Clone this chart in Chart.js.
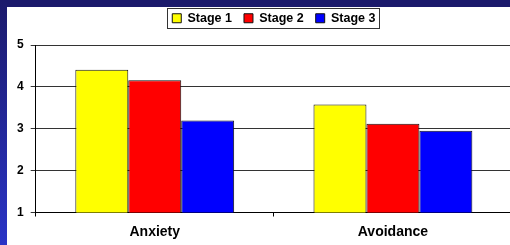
<!DOCTYPE html>
<html>
<head>
<meta charset="utf-8">
<script src="https://cdn.jsdelivr.net/npm/chart.js@4.4.1/dist/chart.umd.min.js"></script>
<style>
  html, body { margin: 0; padding: 0; width: 510px; height: 245px; overflow: hidden; background: #fff; }
  #wrap { position: absolute; left: 0; top: 0; width: 517px; height: 245px; }
  .frameTop { position: absolute; left: 0; top: 0; width: 510px; height: 7px; background: #1b1a6b; z-index: 2; }
  .frameLeft { position: absolute; left: 0; top: 0; width: 7px; height: 245px; z-index: 2;
    background: linear-gradient(to bottom, #1b1a6b, #2a34c6); }
</style>
</head>
<body>
<div class="frameTop"></div>
<div class="frameLeft"></div>
<div id="wrap"><canvas id="stages" width="517" height="245"></canvas></div>
<script>
const categories = ['Anxiety', 'Avoidance'];
const stageNames = ['Stage 1', 'Stage 2', 'Stage 3'];
const stage1 = [4.41, 3.58];
const stage2 = [4.16, 3.12];
const stage3 = [3.20, 2.95];
const yTicks = [1, 2, 3, 4, 5];

Chart.defaults.font.family = "'Liberation Sans', Arial, sans-serif";
Chart.defaults.font.weight = 'bold';
Chart.defaults.color = '#000';

// legend gets a thin frame like the original
const legendFrame = {
    id: 'legendFrame',
    beforeInit(chart) {
        const fit = chart.legend.fit;
        chart.legend.fit = function () {
            fit.bind(chart.legend)();
            this.height = 45;
        };
    },
    afterDraw(chart) {
        const boxes = chart.legend.legendHitBoxes;
        if (!boxes || !boxes.length) return;
        const left = Math.min(...boxes.map(b => b.left));
        const right = Math.max(...boxes.map(b => b.left + b.width));
        const top = Math.min(...boxes.map(b => b.top));
        const bottom = Math.max(...boxes.map(b => b.top + b.height));
        const ctx = chart.ctx;
        ctx.save();
        ctx.strokeStyle = '#333';
        ctx.lineWidth = 1;
        ctx.strokeRect(Math.round(left - 5) + 0.5, Math.round(top - 4) + 0.5,
            Math.round(right - left + 9), Math.round(bottom - top + 7));
        ctx.restore();
    }
};

const barStyle = { borderColor: '#111', borderWidth: 1 };

new Chart(document.getElementById('stages'), {
    type: 'bar',
    data: {
        labels: categories,
        datasets: [
            { label: stageNames[0], data: stage1, backgroundColor: '#ffff00', ...barStyle },
            { label: stageNames[1], data: stage2, backgroundColor: '#ff0000', ...barStyle },
            { label: stageNames[2], data: stage3, backgroundColor: '#0000ff', ...barStyle },
        ]
    },
    options: {
        responsive: false,
        animation: false,
        devicePixelRatio: 1,
        categoryPercentage: 0.667,
        barPercentage: 1,
        layout: {
            padding: { left: 10, right: 5, top: 0, bottom: -3.5 }
        },
        scales: {
            x: {
                grid: {
                    offset: true,
                    drawOnChartArea: false,
                    tickLength: 4,
                    color: '#000'
                },
                border: { color: '#000', width: 1 },
                ticks: {
                    padding: 9,
                    font: { size: 14, weight: 'bold', lineHeight: 1 }
                }
            },
            y: {
                min: yTicks[0],
                max: yTicks[yTicks.length - 1],
                afterBuildTicks: axis => { axis.ticks = yTicks.map(v => ({ value: v })); },
                grid: {
                    color: '#333',
                    tickLength: 5
                },
                border: { color: '#000', width: 1 },
                ticks: {
                    autoSkip: false,
                    padding: 7,
                    font: { size: 12, weight: 'bold' }
                }
            }
        },
        plugins: {
            legend: {
                position: 'top',
                fullSize: false,
                labels: {
                    boxWidth: 9,
                    boxHeight: 9,
                    padding: 12,
                    font: { size: 12.5, weight: 'bold' }
                }
            },
            tooltip: { enabled: false }
        }
    },
    plugins: [legendFrame]
});
</script>
</body>
</html>
